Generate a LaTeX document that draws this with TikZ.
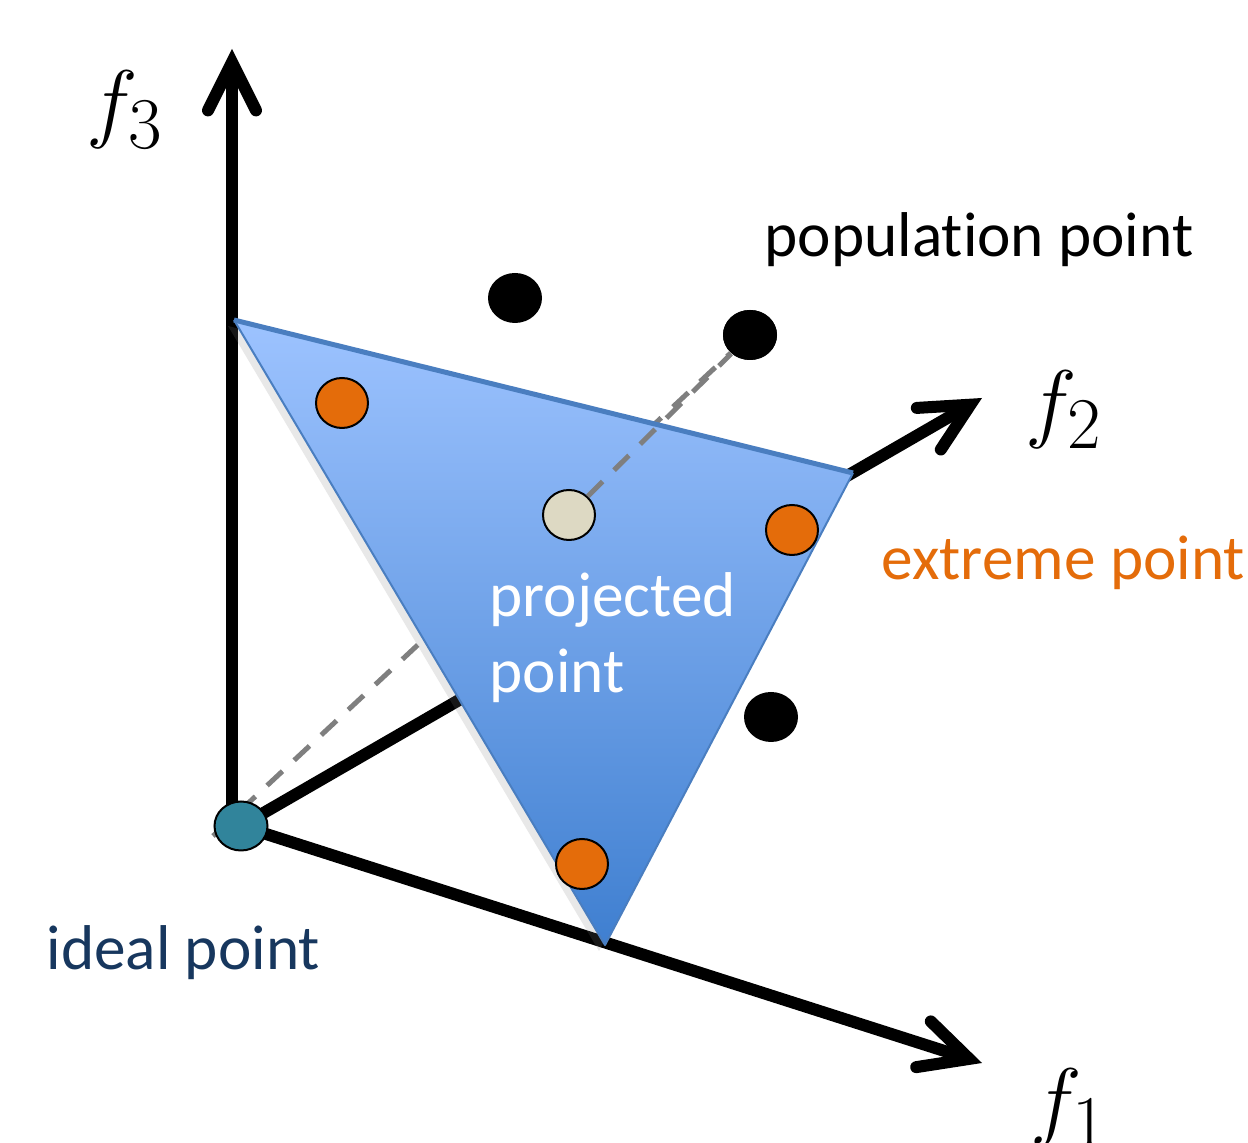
\documentclass[tikz,border=0pt]{standalone}
\usepackage{fontspec}
\setmainfont[Ligatures=NoCommon]{Carlito}
\usepackage{tikz}
\usetikzlibrary{arrows.meta,positioning,shadows,shapes.geometric}
\definecolor{facetlight}{HTML}{9DC3FF}
\definecolor{facetdark} {HTML}{3F7FD0}
\definecolor{facetedge} {HTML}{4A7EC0}
\definecolor{extreme}   {HTML}{E46C0A}
\definecolor{idealteal} {HTML}{31849B}
\definecolor{idealtext} {HTML}{17375E}
\definecolor{projfill}  {HTML}{DDD9C3}
\definecolor{dashgray}  {HTML}{7F7F7F}
\tikzset{
  axisline/.style={line width=1.2mm,
    -{Straight Barb[length=4.8mm,width=4.8mm,line cap=round,line join=miter]}},
  projline/.style={dashgray,line width=0.5mm,dash pattern=on 2.1mm off 1.6mm},
  popdot/.style={ellipse,fill=black,minimum width=5.4mm,minimum height=5.0mm,inner sep=0pt},
  extdot/.style={ellipse,draw=black,line width=0.2mm,fill=extreme,minimum width=5.2mm,minimum height=5.0mm,inner sep=0pt},
  projdot/.style={extdot,fill=projfill},
  idealdot/.style={extdot,fill=idealteal,minimum width=5.3mm,minimum height=4.9mm},
  lbl/.style={font=\fontsize{18}{21.9}\selectfont,anchor=base west,inner sep=0pt},
  flbl/.style={font=\fontsize{29.6}{32}\selectfont,anchor=base west,inner sep=0pt}
}
\begin{document}
\begin{tikzpicture}[x=0.1mm,y=-0.1mm]
  \useasboundingbox (0,0) rectangle (1248,1143);
  \coordinate (o)     at (241,826);
  \coordinate (o3)    at (232,826);
  \coordinate (tip3)  at (232,49);
  \coordinate (tip2)  at (982,398);
  \coordinate (tip1)  at (982,1063);
  \coordinate (dashend) at (213,836);
  \coordinate (ta) at (234,320);
  \coordinate (tb) at (853,473);
  \coordinate (tc) at (605,945);

  \draw[axisline] (o3) -- (tip3);
  \draw[axisline] (o) -- (tip2);
  \draw[axisline] (o) -- (tip1);

  \node[popdot] (pop1) at (515,298) {};
  \node[popdot] (pop2) at (750,335) {};
  \node[popdot] (pop3) at (771,717) {};
  \draw[projline] (dashend) -- (pop2);

  \path[top color=facetlight,bottom color=facetdark,
        drop shadow={opacity=0.18,shadow xshift=-0.6mm,shadow yshift=-0.6mm}]
    (ta) -- (tb) -- (tc) -- cycle;
  \draw[facetedge,line width=0.2mm,line join=round] (tb) -- (tc) -- (ta);
  \draw[facetedge,line width=0.5mm] (ta) -- (tb);

  \node[projdot] (proj) at (569,515) {};
  \draw[projline] (proj) -- (pop2);
  \node[popdot] at (pop2) {};

  \node[extdot] (ext1) at (342,403) {};
  \node[extdot] (ext2) at (792,530) {};
  \node[extdot] (ext3) at (582,864) {};
  \node[idealdot] (ideal) at (o) {};

  \node[flbl] (f3) at (86,132) {$f_3$};
  \node[flbl] (f2) at (1025,432) {$f_2$};
  \node[flbl] (f1) at (1030,1130) {$f_1$};

  \node[lbl] (poplbl) at (764,257) {population point};
  \node[lbl,text=extreme] (extlbl) at (881,580) {extreme point};
  \node[lbl,text=white,align=left] (projlbl) at (489,693) {projected\\point};
  \node[lbl,text=idealtext] (ideallbl) at (46,970) {ideal point};
\end{tikzpicture}
\end{document}
